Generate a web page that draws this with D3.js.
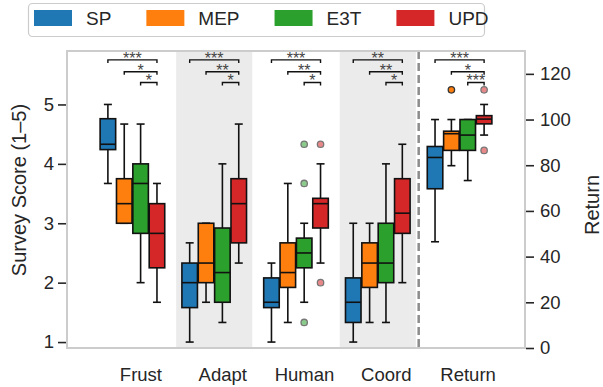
<!DOCTYPE html>
<html>
<head>
<meta charset="utf-8">
<script src="https://cdn.jsdelivr.net/npm/d3@7"></script>
<style>
  body { margin: 0; background: #fff; }
  svg { font-family: "Liberation Sans", Arial, sans-serif; }
</style>
</head>
<body>
<div id="chart"></div>
<script>
// categories and methods
var groups = ["Frust", "Adapt", "Human", "Coord", "Return"];
var methods = ["SP", "MEP", "E3T", "UPD"];
var colors = ["#1f77b4", "#ff7f0e", "#2ca02c", "#d62728"];

// box stats per method: [whisker low, q1, median, q3, whisker high]
var frust = [[3.67, 4.24, 4.33, 4.76, 5.0], [3.0, 3.0, 3.33, 3.75, 4.67], [2.0, 2.83, 3.67, 4.0, 4.67], [1.67, 2.25, 2.83, 3.33, 3.67]];
var adapt = [[1.0, 1.58, 2.0, 2.33, 2.67], [1.67, 2.0, 2.33, 3.0, 3.0], [1.33, 1.67, 2.17, 2.92, 4.0], [2.33, 2.67, 3.33, 3.75, 4.67]];
var human = [[1.0, 1.58, 1.67, 2.08, 2.33], [1.33, 1.92, 2.17, 2.67, 3.67], [1.67, 2.25, 2.5, 2.75, 3.0], [2.33, 2.92, 3.33, 3.42, 4.0]];
var coord = [[1.0, 1.33, 1.67, 2.08, 3.0], [1.33, 1.92, 2.33, 2.67, 3.0], [1.33, 2.0, 2.33, 3.0, 4.0], [2.0, 2.83, 3.17, 3.75, 4.33]];
var ret = [[46.5, 69.7, 83.4, 88.2, 100], [79.8, 86.5, 93.8, 94.9, 100], [73.3, 86.5, 93.2, 100, 100], [93.2, 98.1, 100.2, 101.7, 106.6]];

// outliers per method
var humanFliers = [[], [], [4.33, 3.67, 1.33], [4.33, 2.0]];
var retFliers = [[], [113], [], [113, 86.5]];
var noFliers = [[], [], [], []];

// significance labels for (SP,UPD), (MEP,UPD), (E3T,UPD)
var sigFrust = ["***", "*", "*"];
var sigAdapt = ["***", "**", "*"];
var sigHuman = ["***", "**", "*"];
var sigCoord = ["**", "**", "*"];
var sigReturn = ["***", "*", "***"];
var sigLevels = [5.75, 5.55, 5.37];

var leftTicks = [1, 2, 3, 4, 5];
var rightTicks = [0, 20, 40, 60, 80, 100, 120];

var stats = [frust, adapt, human, coord, ret];
var fliers = [noFliers, noFliers, humanFliers, noFliers, retFliers];
var sigs = [sigFrust, sigAdapt, sigHuman, sigCoord, sigReturn];

var W = 603, H = 387;
var L = 67, R = 525, T = 51, B = 348;

var svg = d3.select("#chart").append("svg").attr("width", W).attr("height", H);

var x = d3.scaleLinear().domain([-0.8, 4.8]).range([L, R]);
var yL = d3.scaleLinear().domain([0.9, 5.9]).range([B, T]);
var yR = d3.scaleLinear().domain([0, 130]).range([B, T]);

var offsets = [-0.3, -0.1, 0.1, 0.3];
var bw = 0.19;

// shaded bands
[1, 3].forEach(function(g) {
    svg.append("rect")
        .attr("x", x(g - 0.465)).attr("y", T)
        .attr("width", x(g + 0.465) - x(g - 0.465)).attr("height", B - T)
        .attr("fill", "#ebebeb");
});

// divider before Return
svg.append("line")
    .attr("x1", x(3.5)).attr("x2", x(3.5)).attr("y1", T).attr("y2", B)
    .attr("stroke", "#8c8c8c").attr("stroke-width", 2.5).attr("stroke-dasharray", "8,4");

// boxes
for (var g = 0; g < groups.length; g++) {
    var y = g == 4 ? yR : yL;
    for (var m = 0; m < methods.length; m++) {
        var s = stats[g][m];
        var cx = x(g + offsets[m]);
        var x0 = x(g + offsets[m] - bw / 2), x1 = x(g + offsets[m] + bw / 2);
        var cap = 4;
        var grp = svg.append("g").attr("stroke", "#111").attr("stroke-width", 1.6);
        grp.append("line").attr("x1", cx).attr("x2", cx).attr("y1", y(s[0])).attr("y2", y(s[1]));
        grp.append("line").attr("x1", cx).attr("x2", cx).attr("y1", y(s[3])).attr("y2", y(s[4]));
        grp.append("line").attr("x1", cx - cap).attr("x2", cx + cap).attr("y1", y(s[0])).attr("y2", y(s[0]));
        grp.append("line").attr("x1", cx - cap).attr("x2", cx + cap).attr("y1", y(s[4])).attr("y2", y(s[4]));
        grp.append("rect").attr("x", x0).attr("y", y(s[3]))
            .attr("width", x1 - x0).attr("height", Math.max(0.5, y(s[1]) - y(s[3])))
            .attr("fill", colors[m]);
        grp.append("line").attr("x1", x0).attr("x2", x1).attr("y1", y(s[2])).attr("y2", y(s[2]));

        fliers[g][m].forEach(function(v) {
            var solid = m == 1;
            svg.append("circle").attr("cx", cx).attr("cy", y(v)).attr("r", 3.2)
                .attr("fill", colors[m]).attr("fill-opacity", solid ? 1 : 0.55)
                .attr("stroke", solid ? "#333" : "#777").attr("stroke-width", 1.3);
        });
    }

    // significance brackets
    for (var k = 0; k < 3; k++) {
        var ly = yL(sigLevels[k]);
        var xa = x(g + offsets[k]), xb = x(g + offsets[3]);
        svg.append("path")
            .attr("d", "M" + xa + "," + (ly + 3) + "V" + ly + "H" + xb + "V" + (ly + 3))
            .attr("fill", "none").attr("stroke", "#111").attr("stroke-width", 1.4);
        svg.append("text").attr("x", (xa + xb) / 2).attr("y", ly + 4)
            .attr("text-anchor", "middle").attr("font-size", 16).attr("fill", "#444")
            .text(sigs[g][k]);
    }
}

// frame
svg.append("rect").attr("x", L).attr("y", T).attr("width", R - L).attr("height", B - T)
    .attr("fill", "none").attr("stroke", "#cccccc").attr("stroke-width", 2);

// axes
var axL = svg.append("g").attr("transform", "translate(" + (L - 1) + ",0)")
    .call(d3.axisLeft(yL).tickValues(leftTicks).tickFormat(d3.format("d")).tickSize(8).tickPadding(4));
var axR = svg.append("g").attr("transform", "translate(" + (R + 1) + ",0)")
    .call(d3.axisRight(yR).tickValues(rightTicks).tickFormat(d3.format("d")).tickSize(8).tickPadding(6));
var axB = svg.append("g").attr("transform", "translate(0," + B + ")")
    .call(d3.axisBottom(x).tickValues(d3.range(groups.length)).tickFormat(function(d) { return groups[d]; }).tickSize(0).tickPadding(20));
[axL, axR, axB].forEach(function(a) {
    a.select(".domain").remove();
    a.selectAll("line").attr("stroke", "#262626").attr("stroke-width", 1.6);
    a.selectAll("text").attr("font-size", 18.5).attr("fill", "#262626")
        .attr("font-family", "'Liberation Sans', Arial, sans-serif");
});
axB.selectAll("text").attr("dx", 8);

svg.append("text").attr("transform", "translate(26,190) rotate(-90)")
    .attr("text-anchor", "middle").attr("font-size", 20).attr("fill", "#262626")
    .text("Survey Score (1\u20135)");
svg.append("text").attr("transform", "translate(599,205) rotate(-90)")
    .attr("text-anchor", "middle").attr("font-size", 20).attr("fill", "#262626")
    .text("Return");

// legend
var leg = svg.append("g");
leg.append("rect").attr("x", 28.5).attr("y", 3.5).attr("width", 456).attr("height", 33)
    .attr("rx", 4).attr("fill", "#fff").attr("stroke", "#cccccc").attr("stroke-width", 1.2);
var lx = 34;
methods.forEach(function(name, i) {
    leg.append("rect").attr("x", lx).attr("y", 10).attr("width", 38).attr("height", 16)
        .attr("fill", colors[i]);
    var t = leg.append("text").attr("x", lx + 52).attr("y", 25).attr("font-size", 19)
        .attr("fill", "#262626").text(name);
    lx = lx + 52 + t.node().getComputedTextLength() + 35;
});
</script>
</body>
</html>
